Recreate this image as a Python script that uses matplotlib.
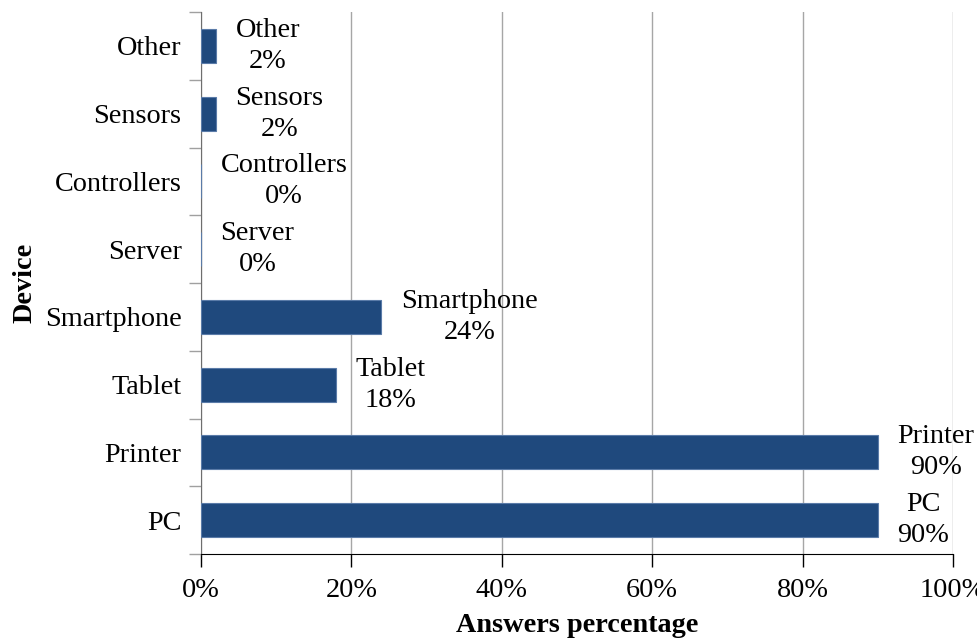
import matplotlib
matplotlib.use("Agg")
import matplotlib.pyplot as plt
import numpy as np

# Survey answers per device (bottom to top)
devices = ['PC', 'Printer', 'Tablet', 'Smartphone', 'Server', 'Controllers', 'Sensors', 'Other']
percent = [90, 90, 18, 24, 0, 0, 2, 2]
x_ticks = [0, 20, 40, 60, 80, 100]

plt.rcParams['font.family'] = ['Liberation Serif', 'DejaVu Serif']
FS = 20.3

fig = plt.figure(figsize=(9.78, 6.38), dpi=100)
ax = fig.add_axes([201 / 978, 84 / 638, 752 / 978, 542 / 638])

y = np.arange(len(devices))
ax.barh(y, percent, height=0.5, color='#1F497D', edgecolor='#5A7BA8', linewidth=0.8, zorder=3)

# labels next to the bars
for yi, name, val in zip(y, devices, percent):
    ax.text(val + 2.6, yi, f"{name}\n{val}%", ha='left', va='center',
            multialignment='center', fontsize=FS, linespacing=1.32, zorder=4)

ax.set_xlim(0, 100)
ax.set_ylim(-0.5, len(devices) - 0.5)
ax.set_xticks(x_ticks)
ax.set_xticklabels([f"{t}%" for t in x_ticks], fontsize=FS)
ax.set_yticks(y)
ax.set_yticklabels(devices, fontsize=FS)
ax.set_yticks(np.arange(len(devices) + 1) - 0.5, minor=True)

ax.tick_params(axis='y', which='major', length=0, pad=14)
ax.tick_params(axis='y', which='minor', length=9, color='#a0a0a0', width=1)
ax.tick_params(axis='x', which='major', length=9, color='black', width=1, pad=8)

ax.grid(axis='x', color='#a6a6a6', linewidth=1, zorder=0)
ax.set_axisbelow(True)

for side in ['top', 'right']:
    ax.spines[side].set_visible(False)
ax.spines['left'].set_color('#6e6e6e')
ax.spines['bottom'].set_color('black')

ax.set_xlabel('Answers percentage', fontsize=FS, fontweight='bold')
ax.xaxis.set_label_coords(0.5, -0.109)
ax.set_ylabel('Device', fontsize=FS, fontweight='bold')
ax.yaxis.set_label_coords(-0.217, 0.5)

fig.savefig('out.png', dpi=100)
